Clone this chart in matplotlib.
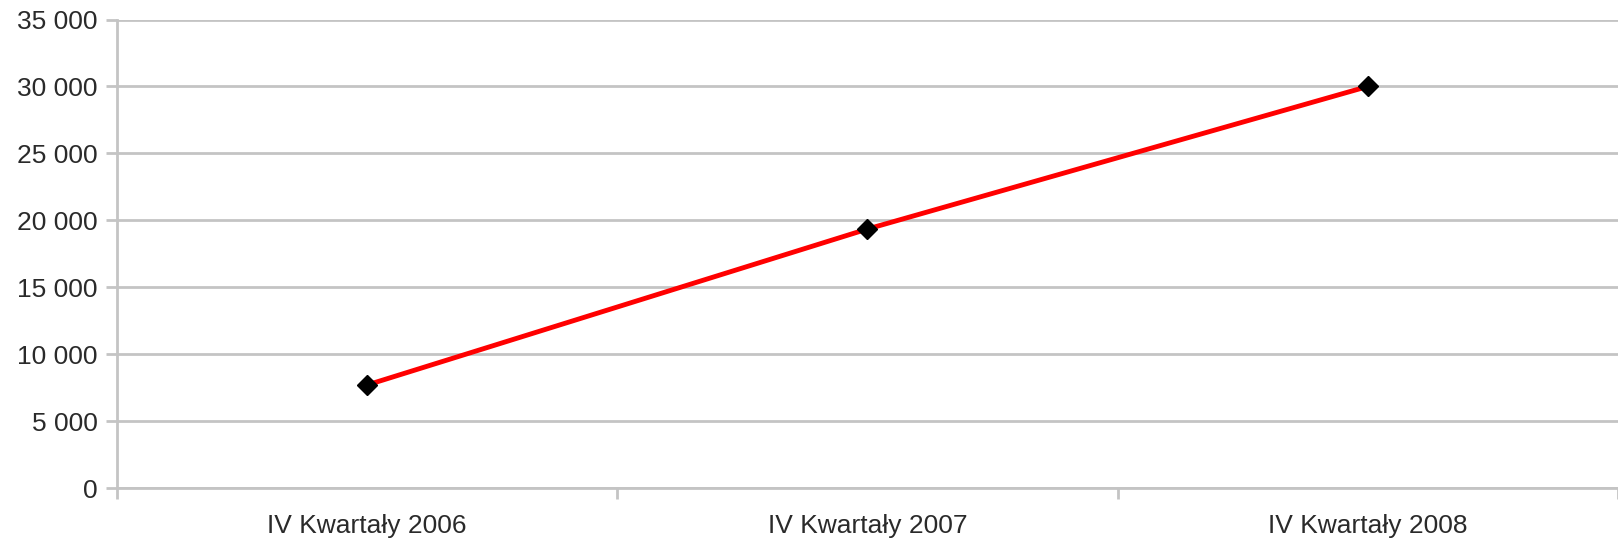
import matplotlib.pyplot as plt
from matplotlib.ticker import FuncFormatter

categories = ['IV Kwartały 2006', 'IV Kwartały 2007', 'IV Kwartały 2008']
values = [7700, 19350, 30000]
y_ticks = [0, 5000, 10000, 15000, 20000, 25000, 30000, 35000]

plt.rcParams['font.family'] = ['Liberation Sans', 'DejaVu Sans']

fig = plt.figure(figsize=(16.18, 5.46), dpi=100)
ax = fig.add_axes([0.0723, 0.1062, 0.9277, 0.858])

grid_col = '#c4c4c4'
x = list(range(len(categories)))

ax.plot(x, values, color='#ff0000', lw=3.5, zorder=3)
ax.plot(x, values, 'D', color='black', markersize=10, zorder=4)

ax.set_xlim(-0.5, len(categories) - 0.5)
ax.set_ylim(0, 35000)
ax.set_yticks(y_ticks)
ax.yaxis.set_major_formatter(FuncFormatter(lambda v, p: f'{int(v):,}'.replace(',', ' ')))
ax.set_xticks(x)
ax.set_xticklabels(categories)
ax.set_xticks([i - 0.5 for i in range(len(categories) + 1)], minor=True)

ax.grid(axis='y', color=grid_col, lw=2)
ax.set_axisbelow(True)
for side in ['top', 'right']:
    ax.spines[side].set_visible(False)
for side in ['left', 'bottom']:
    ax.spines[side].set_color(grid_col)
    ax.spines[side].set_linewidth(2)

ax.tick_params(axis='y', length=8, width=2, color=grid_col, labelsize=19, labelcolor='#2a2a2a', pad=6)
ax.tick_params(axis='x', which='major', length=0, labelsize=19, labelcolor='#2a2a2a', pad=19)
ax.tick_params(axis='x', which='minor', length=8, width=2, color=grid_col)

fig.savefig('out.png', dpi=100)
